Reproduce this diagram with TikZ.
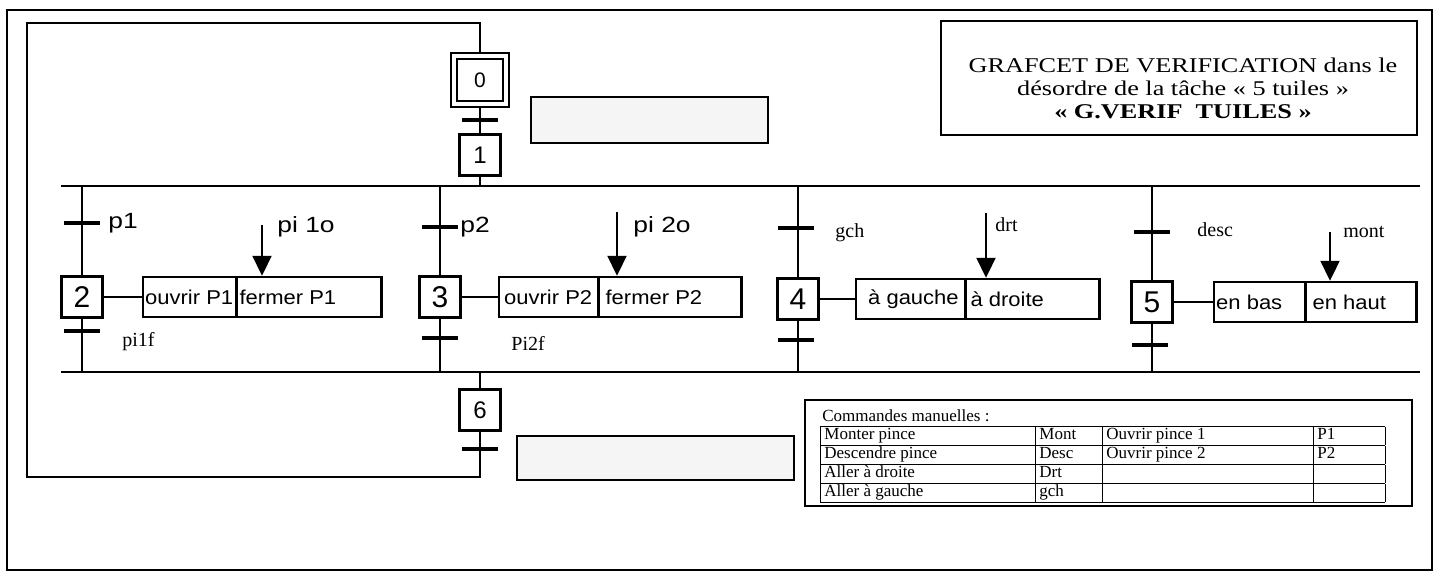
\documentclass[tikz,border=0pt]{standalone}
\usepackage{fontspec}
\usepackage{graphicx}
\setmainfont{Liberation Serif}
\newfontfamily\arial{Liberation Sans}
\newcommand{\etire}[2][1.2]{\scalebox{#1}[1]{#2}}
\usetikzlibrary{arrows.meta, positioning, shapes.multipart}

\begin{document}
\begin{tikzpicture}[
    x=0.5pt, y=-0.5pt,
    etape/.style={rectangle, draw, line width=1.4pt, minimum size=20.5pt, inner sep=0pt, font=\arial\fontsize{15}{15}\selectfont},
    petite/.style={etape, font=\arial\fontsize{12}{12}\selectfont},
    transbar/.style={rectangle, fill=black, minimum width=18pt, minimum height=1.6pt, inner sep=0pt},
    actionbox/.style={rectangle split, rectangle split horizontal, rectangle split parts=2, draw, line width=1.2pt, minimum height=20pt, inner xsep=1pt, inner ysep=0pt, anchor=west, font=\arial\fontsize{10}{10}\selectfont},
    recept/.style={anchor=west, inner sep=0pt, font=\fontsize{10}{10}\selectfont},
    receptsans/.style={anchor=west, inner sep=0pt, font=\arial\fontsize{11}{11}\selectfont},
    lien/.style={line width=0.8pt},
    evt/.style={line width=1pt, -{Triangle[width=9.5pt,length=10pt]}},
    cadre/.style={draw, line width=1pt, inner sep=0pt},
    vide/.style={cadre, fill=black!4}
  ]
  \useasboundingbox (0,0) rectangle (1440,576);
  \draw[line width=1pt] (7,10) rectangle (1432,570);

  \node[etape, font=\arial\fontsize{10.5}{10.5}\selectfont, minimum width=26pt, minimum height=24pt, line width=0.9pt, double, double distance=2pt, outer sep=2pt] (e0) at (480,80) {0};
  \node[transbar] (t01) at (480,120) {};
  \node[petite] (e1) at (480,155) {1};
  \node[vide, minimum width=118.5pt, minimum height=23pt] (com0) at (649.5,120) {};

  \coordinate (divL) at (61,186);
  \coordinate (divH) at (480,186);
  \coordinate (divR) at (1420,186);
  \coordinate (convL) at (61,372);
  \coordinate (convH) at (480,372);
  \coordinate (convR) at (1420,372);

  \node[etape] (e2) at (82,297) {2};
  \node[etape] (e3) at (440,297) {3};
  \node[etape] (e4) at (798,299) {4};
  \node[etape] (e5) at (1152,302) {5};

  \node[actionbox] (a2) at (142,297) {\makebox[44pt][l]{\etire[1.1]{ouvrir P1}}\nodepart{two}\makebox[70pt][l]{\etire[1.1]{fermer P1}}};
  \node[actionbox] (a3) at (498,297) {\makebox[47pt][c]{\etire[1.1]{ouvrir P2}}\nodepart{two}\makebox[69pt][l]{\hspace{2pt}\etire[1.1]{fermer P2}}};
  \node[actionbox] (a4) at (855,299) {\makebox[52pt][l]{\hspace{5pt}\etire[1.1]{à gauche}}\nodepart{two}\makebox[64.5pt][l]{\hspace{1pt}\etire[1.1]{à droite}}};
  \node[actionbox] (a5) at (1213,302) {\makebox[43pt][l]{\etire[1.1]{en bas}}\nodepart{two}\makebox[53pt][l]{\hspace{2pt}\etire[1.1]{en haut}}};

  \node[transbar] (t2a) at (82,223) {};
  \node[transbar] (t2b) at (82,331) {};
  \node[transbar] (t3a) at (440,227) {};
  \node[transbar] (t3b) at (440,338) {};
  \node[transbar] (t4a) at (796,228) {};
  \node[transbar] (t4b) at (796,340) {};
  \node[transbar] (t5a) at (1152,232) {};
  \node[transbar] (t5b) at (1150,345) {};

  \node[receptsans] (r2a) at (108,223) {\etire{p1}};
  \node[recept] (r2b) at (122,342) {pi1f};
  \node[receptsans] (r3a) at (460,227) {\etire{p2}};
  \node[recept] (r3b) at (511,343) {Pi2f};
  \node[recept] (r4a) at (835,233) {gch};
  \node[recept] (r5a) at (1197,230) {desc};

  \coordinate (ev2) at (262,225);
  \coordinate (ev3) at (617,212);
  \coordinate (ev4) at (986,213);
  \coordinate (ev5) at (1330,232);
  \node[receptsans] (l2) at (277,227) {\etire{pi 1o}};
  \node[receptsans] (l3) at (633,227) {\etire{pi 2o}};
  \node[recept] (l4) at (995,225) {drt};
  \node[recept] (l5) at (1343,232) {mont};
  \draw[evt] (ev2) -- (ev2 |- a2.north);
  \draw[evt] (ev3) -- (ev3 |- a3.north);
  \draw[evt] (ev4) -- (ev4 |- a4.north);
  \draw[evt] (ev5) -- (ev5 |- a5.north);

  \draw[lien] (e0) -- (e1);
  \draw[lien] (e1) -- (divH);
  \draw[line width=1pt] (divL) -- (divR);
  \draw[line width=1pt] (convL) -- (convR);
  \foreach \e in {e2,e3,e4,e5} {
    \draw[lien] (\e |- divL) -- (\e);
    \draw[lien] (\e) -- (\e |- convL);
  }
  \draw[lien] (e2) -- (a2);
  \draw[lien] (e3) -- (a3);
  \draw[lien] (e4) -- (a4);
  \draw[lien] (e5) -- (a5);

  \node[petite] (e6) at (480,410) {6};
  \node[transbar] (t6) at (480,449) {};
  \node[vide, minimum width=138.5pt, minimum height=22pt] (com6) at (655.5,458) {};
  \coordinate (boucleG) at (27,477);
  \coordinate (boucleH) at (27,23);
  \draw[lien] (convH) -- (e6);
  \draw[lien] (e6.south) |- (boucleG) -- (boucleH) -| (e0.north);

  \node[cadre, minimum width=238pt, minimum height=57pt] (titre) at (1179,78) {};
  \node[align=center, font=\fontsize{10.5}{11.5}\selectfont] (titretxt) at (1183,88)
    {\etire[1.25]{GRAFCET DE VERIFICATION dans le}\\ \etire[1.25]{désordre de la tâche « 5 tuiles »}\\ \etire[1.25]{\textbf{« G.VERIF~~TUILES »}}};

  \node[cadre, minimum width=303.5pt, minimum height=53pt] (cmd) at (1108.5,453) {};
  \node[anchor=west, inner sep=0pt, font=\fontsize{8.5}{8.5}\selectfont] (cmdtitre) at (822,416) {Commandes manuelles :};
  \node[anchor=north west, inner sep=0pt, font=\fontsize{8.5}{8.2}\selectfont] (cmdtab) at (820,426) {%
    \setlength{\tabcolsep}{2pt}%
    \renewcommand{\arraystretch}{1.1}%
    \begin{tabular}{|p{103.5pt}|p{29.5pt}|p{101.5pt}|p{32pt}|}
      \hline
      Monter pince & Mont & Ouvrir pince 1 & P1\\ \hline
      Descendre pince & Desc & Ouvrir pince 2 & P2\\ \hline
      Aller à droite & Drt & & \\ \hline
      Aller à gauche & gch & & \\ \hline
    \end{tabular}};
\end{tikzpicture}
\end{document}
